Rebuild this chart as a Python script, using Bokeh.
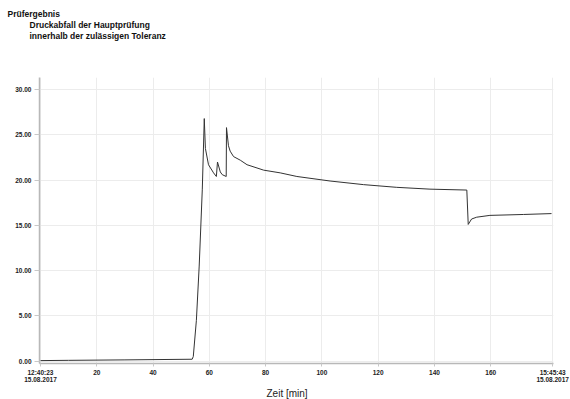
from bokeh.plotting import figure
from bokeh.models import Range1d, FixedTicker, PrintfTickFormatter, Title
from bokeh.embed import file_html
from bokeh.resources import INLINE

# Data (time in minutes since start, pressure)
time_min = [0, 10, 30, 53.9, 54.3, 55.4, 56.4, 57.5, 58.2, 58.6, 59.7, 61.5, 62.5,
            62.9, 63.9, 64.6, 66.0, 66.1, 66.8, 67.4, 68.6, 71.0, 73.4, 79.3, 85.2,
            91.1, 102.9, 114.8, 126.6, 138.4, 151.5, 152.0, 153.2, 155.0, 159.7,
            171.6, 181.6]
pressure = [0.05, 0.08, 0.13, 0.2, 0.5, 4.5, 10.5, 19.0, 26.8, 23.5, 21.7, 20.8, 20.4,
            22.0, 20.9, 20.6, 20.4, 25.8, 23.8, 23.2, 22.6, 22.2, 21.7, 21.1, 20.8,
            20.4, 19.9, 19.5, 19.2, 19.0, 18.9, 15.1, 15.7, 15.9, 16.1,
            16.2, 16.3]

x_ticks = [0, 20, 40, 60, 80, 100, 120, 140, 160, 182]
x_tick_labels = ["12:40:23\n15.08.2017", "20", "40", "60", "80", "100", "120", "140",
                 "160", "15:45:43\n15.08.2017"]
y_ticks = [0, 5, 10, 15, 20, 25, 30]

title_lines = ["Prüfergebnis", "Druckabfall der Hauptprüfung",
               "innerhalb der zulässigen Toleranz"]
x_axis_title = "Zeit [min]"

FONT = "Liberation Sans"

p = figure(width=570, height=399, output_backend="svg", toolbar_location=None,
           x_range=Range1d(-0.35, 182.3), y_range=Range1d(-0.27, 31.34),
           min_border_left=39, min_border_right=17, min_border_top=77,
           min_border_bottom=0)
p.outline_line_color = None
p.background_fill_color = "white"
p.border_fill_color = "white"

p.line(time_min, pressure, line_color="#333333", line_width=1)

# axes
p.xaxis.ticker = FixedTicker(ticks=x_ticks)
p.xaxis.major_label_overrides = {t: l for t, l in zip(x_ticks, x_tick_labels)}
p.yaxis.ticker = FixedTicker(ticks=y_ticks)
p.yaxis.formatter = PrintfTickFormatter(format="%.2f")

for ax in (p.xaxis, p.yaxis):
    ax.axis_line_color = "#b8b8b8"
    ax.axis_line_width = 1.5
    ax.major_tick_line_color = "#c8c8c8"
    ax.minor_tick_line_color = None
    ax.major_tick_in = 0
    ax.major_label_text_font = FONT
    ax.major_label_text_font_size = "6.5px"
    ax.major_label_text_font_style = "bold"
    ax.major_label_text_color = "#222222"

p.yaxis.major_tick_out = 5
p.yaxis.major_label_standoff = 3
p.xaxis.major_tick_out = 3
p.xaxis.major_label_standoff = 2
p.xaxis.major_label_text_line_height = 1.0

p.xgrid.ticker = FixedTicker(ticks=x_ticks)
p.ygrid.ticker = FixedTicker(ticks=y_ticks)
p.grid.grid_line_color = "#ececec"
p.grid.grid_line_width = 1

# spacer between the title block and the plot area (added first: closest to frame)
p.add_layout(Title(text=" ", standoff=34, text_font=FONT, text_font_size="1px"), "above")

# title lines (each later one sits further from the frame)
offsets = [-32, -10, -10]
for txt, off in reversed(list(zip(title_lines, offsets))):
    p.add_layout(Title(text=txt, align="left", offset=off, standoff=-1.2,
                       text_font=FONT, text_font_size="8.5px", text_font_style="bold",
                       text_color="#111111", text_line_height=1.0), "above")

p.add_layout(Title(text=x_axis_title, align="left", offset=227, standoff=0.5,
                   text_font=FONT, text_font_size="10px", text_font_style="normal",
                   text_color="#222222", text_line_height=1.0), "below")

open("out.html", "w").write(file_html(p, INLINE))
